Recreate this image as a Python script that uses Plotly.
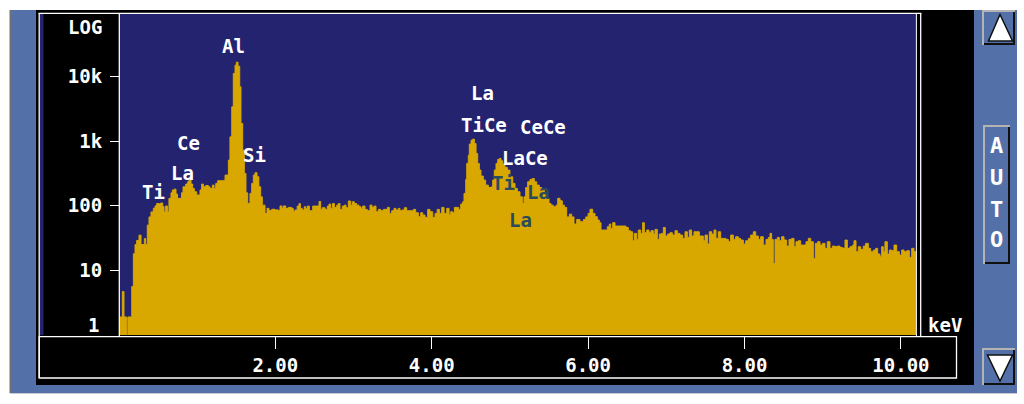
import plotly.graph_objects as go

# ---------------- data ----------------
energy_kev = [
    0.014, 0.044, 0.065, 0.100, 0.115, 0.164, 0.185, 0.206, 0.227, 0.257, 0.283, 0.325, 0.342, 0.363,
    0.385, 0.41, 0.44, 0.462, 0.483, 0.513, 0.534, 0.56, 0.577, 0.598, 0.62, 0.64, 0.666, 0.683,
    0.709, 0.73, 0.75, 0.80, 0.82, 0.854, 0.88, 0.896, 0.922, 0.943, 0.965, 0.995, 1.037, 1.058,
    1.08, 1.11, 1.143, 1.165, 1.195, 1.216, 1.238, 1.263, 1.357, 1.40, 1.42, 1.443, 1.463, 1.485,
    1.502, 1.523, 1.545, 1.561, 1.583, 1.604, 1.625, 1.647, 1.676, 1.698, 1.719, 1.74, 1.766, 1.79,
    1.813, 1.834, 1.868, 1.894, 1.919, 1.954, 1.996, 2.04, 2.06, 2.082, 2.10, 2.133, 2.166, 2.21,
    2.23, 2.25, 2.28, 2.303, 2.32, 2.345, 2.37, 2.39, 2.41, 2.435, 2.478, 2.559, 2.58, 2.60,
    2.636, 2.665, 2.687, 2.708, 2.73, 2.755, 2.785, 2.806, 2.827, 2.857, 2.883, 2.904, 2.934, 2.964,
    2.985, 3.01, 3.04, 3.07, 3.096, 3.117, 3.147, 3.177, 3.211, 3.237, 3.262, 3.288, 3.318, 3.348,
    3.382, 3.433, 3.458, 3.488, 3.518, 3.543, 3.573, 3.594, 3.616, 3.65, 3.68, 3.72, 3.765, 3.795,
    3.829, 3.859, 3.885, 3.914, 3.948, 3.978, 4.013, 4.043, 4.07, 4.098, 4.128, 4.158, 4.192, 4.222,
    4.243, 4.268, 4.29, 4.345, 4.371, 4.396, 4.413, 4.435, 4.448, 4.468, 4.481, 4.503, 4.524, 4.545,
    4.567, 4.588, 4.609, 4.63, 4.66, 4.69, 4.724, 4.758, 4.78, 4.80, 4.822, 4.844, 4.865, 4.886,
    4.908, 4.937, 4.967, 5.0, 5.036, 5.065, 5.095, 5.129, 5.159, 5.18, 5.202, 5.227, 5.257, 5.287,
    5.312, 5.343, 5.376, 5.406, 5.44, 5.47, 5.50, 5.526, 5.555, 5.59, 5.611, 5.641, 5.67, 5.696,
    5.726, 5.76, 5.79, 5.82, 5.854, 5.896, 5.94, 5.97, 6.0, 6.024, 6.058, 6.088, 6.118, 6.143,
    6.165, 6.246, 6.271, 6.288, 6.314, 6.344, 6.484, 6.514, 6.544, 6.57, 6.591, 6.621, 6.642, 6.672,
    6.697, 6.719, 6.749, 6.778, 6.804, 6.834, 6.855, 6.885, 6.91, 6.94, 6.962, 6.987, 7.017, 7.047,
    7.077, 7.111, 7.141, 7.175, 7.209, 7.239, 7.269, 7.294, 7.324, 7.354, 7.388, 7.422, 7.452, 7.473,
    7.495, 7.525, 7.55, 7.58, 7.61, 7.635, 7.665, 7.695, 7.73, 7.763, 7.793, 7.823, 7.857, 7.887,
    7.92, 7.95, 7.985, 8.015, 8.049, 8.079, 8.113, 8.143, 8.177, 8.206, 8.24, 8.275, 8.305, 8.326,
    8.347, 8.368, 8.39, 8.42, 8.445, 8.475, 8.505, 8.539, 8.569, 8.603, 8.633, 8.658, 8.688, 8.718,
    8.752, 8.786, 8.816, 8.846, 8.88, 8.905, 8.935, 8.965, 8.995, 9.029, 9.059, 9.093, 9.123, 9.157,
    9.187, 9.221, 9.255, 9.285, 9.315, 9.349, 9.383, 9.40, 9.426, 9.455, 9.485, 9.519, 9.549, 9.583,
    9.613, 9.647, 9.677, 9.703, 9.733, 9.754, 9.775, 9.796, 9.826, 9.852, 9.882, 9.912, 9.946, 9.98,
    10.01, 10.04, 10.074, 10.108, 10.138, 10.167, 10.193,
]
counts = [
    1.9, 4.7, 1.9, 0.5, 1.9, 5.6, 18, 25, 29, 35, 25, 31, 25, 50,
    67, 80, 91, 99, 108, 106, 110, 97, 80, 99, 80, 130, 158, 175,
    180, 151, 130, 158, 196, 216, 235, 255, 216, 185, 164, 146, 175, 216,
    196, 205, 196, 185, 208, 185, 221, 243, 297, 507, 1160, 3380, 11100, 14900,
    16600, 14400, 6880, 1870, 723, 315, 158, 108, 155, 221, 297, 323, 280, 196,
    137, 102, 76, 91, 84, 88, 86, 84, 99, 91, 99, 91, 94, 91,
    80.6, 85.5, 98.6, 108, 90.8, 85.5, 96.3, 89.7, 98.6, 83.5, 98.6, 116, 87.6, 93,
    87.6, 98.6, 106, 90.8, 108, 94, 102, 108, 87.6, 98.6, 102, 93, 118, 102,
    115, 108, 102, 96.3, 90.8, 98.6, 87.6, 83.5, 102, 94, 98.6, 80.6, 87.6, 83.5,
    87.6, 94, 76, 83.5, 90.8, 85.5, 90.8, 83.5, 85.5, 93, 83.5, 83.5, 87.6, 77.8,
    67.5, 77.8, 71.6, 65.9, 87.6, 80.6, 65.9, 76, 87.6, 76, 94, 76, 90.8, 71.6,
    80.6, 77.8, 94, 87.6, 106, 115, 155, 255, 450, 605, 896, 1030, 1070, 918,
    643, 450, 355, 287, 249, 208, 191, 195, 249, 355, 450, 519, 538, 494,
    440, 391, 355, 280, 221, 185, 164, 137, 108, 137, 191, 234, 255, 263,
    234, 208, 191, 174, 146, 130, 108, 102, 96, 102, 130, 119, 102, 94,
    67, 74, 67, 52, 61, 56.5, 61, 67, 76, 88, 76, 67.5, 60, 54.5,
    42, 47.2, 52, 44.5, 54.5, 48.4, 46.1, 41, 39.5, 28.7, 37.3, 30.1, 42, 37.3,
    54.5, 38.2, 42, 38.2, 41, 36.4, 43, 30.1, 36.4, 37.3, 46.1, 33.9, 36.4, 38.2,
    35.1, 41, 37.3, 35.1, 31.2, 39.5, 32.3, 42, 33.9, 39.5, 39.5, 33.9, 33.9, 28.7,
    35.1, 25.5, 39.5, 36.4, 42, 31.2, 39.5, 31.2, 31.2, 30.1, 27.7, 35.1, 30.1, 33.1,
    31.2, 29.4, 25.5, 28.7, 31.2, 35.1, 39.5, 33.9, 30.1, 33.1, 24.6, 30.1, 32.3, 37.3,
    30.1, 12.8, 30.1, 32.3, 28.7, 33.1, 29.4, 23.7, 30.1, 31.2, 23.2, 27.7, 28.7, 24.6,
    24.6, 27.7, 31.2, 27.7, 15.3, 26.1, 27.7, 24.6, 26.1, 21.9, 27.7, 21.9, 23.7, 23.2,
    23.7, 22.6, 21.9, 29.4, 21.9, 23.2, 24.6, 28.7, 19.4, 23.2, 21.1, 23.7, 26.1, 21.9,
    19.4, 20.6, 21.9, 17.9, 16.2, 23.2, 19.4, 27.7, 17.9, 20.6, 20.1, 24.6, 19.4, 17.2,
    20.6, 19.4, 20.1, 15.9, 21.9, 19.4, 19.4,
]

x_ticks = [2, 4, 6, 8, 10]
x_tick_labels = ["2.00", "4.00", "6.00", "8.00", "10.00"]
y_ticks = [10, 100, 1000, 10000]
y_tick_labels = ["10", "100", "1k", "10k"]

# element labels: (text, pixel x, pixel y, colour key)
label_text = ["Al", "Ce", "La", "Ti", "Si", "La", "TiCe", "CeCe", "LaCe", "Ti", "La", "La"]
label_px = [233, 188, 182, 153, 254, 482, 484, 543, 525, 503, 538, 520]
label_py = [46, 143, 173, 192, 155, 93, 125, 127, 158, 183, 192, 220]
label_dark = [False, False, False, False, False, False, False, False, False, True, True, True]

# ---------------- styling ----------------
W, H = 1024, 404
PL, PR, PT, PB = 120, 916, 13, 335
FONT = "DejaVu Sans Mono"
FS = 19
YELLOW = "#d8a800"
PLOTBLUE = "#232370"
SLATE = "#5470a8"
WHITE = "#ffffff"


def fx(px):
    return (px - PL) / (PR - PL)


def fy(py):
    return (PB - py) / (PB - PT)


shapes = []


def rect(x0, y0, x1, y1, fill=None, line=None, lw=0, layer="below"):
    shapes.append(dict(type="rect", xref="paper", yref="paper",
                       x0=fx(x0), x1=fx(x1), y0=fy(y1), y1=fy(y0),
                       fillcolor=fill if fill else "rgba(0,0,0,0)",
                       line=dict(color=line if line else "rgba(0,0,0,0)", width=lw),
                       layer=layer))


def line(x0, y0, x1, y1, color, lw=1, layer="above"):
    shapes.append(dict(type="line", xref="paper", yref="paper",
                       x0=fx(x0), x1=fx(x1), y0=fy(y0), y1=fy(y1),
                       line=dict(color=color, width=lw), layer=layer))


def poly(pts, fill, color, lw=1, layer="above"):
    path = "M " + " L ".join(f"{fx(a):.5f},{fy(b):.5f}" for a, b in pts) + " Z"
    shapes.append(dict(type="path", xref="paper", yref="paper", path=path,
                       fillcolor=fill, line=dict(color=color, width=lw), layer=layer))


# outer slate panel
rect(10, 10, 1017, 393, fill=SLATE)
line(10.5, 10, 10.5, 393, "#707070", 2, layer="below")
line(10, 393.5, 1017, 393.5, "#c8cad0", 1, layer="below")
# black frame
rect(36, 10, 974, 385, fill="#000000")
# plot area background
rect(PL, PT, PR, PB, fill=PLOTBLUE)
# blue strip on left
rect(40, 14, 43.5, 335, fill=PLOTBLUE)
# x-axis box
rect(39.2, 336.7, 956.5, 378, fill="#000000", line=WHITE, lw=1.3)
# white frame lines
line(38.5, 13.3, 921.3, 13.3, WHITE, 1.3)
line(39.2, 13, 39.2, 378, WHITE, 1.3)
line(119.3, 13, 119.3, 336.7, WHITE, 1.3)
line(916.4, 13, 916.4, 336.7, WHITE, 1.0)
line(920.7, 13, 920.7, 336.7, WHITE, 1.3)

# buttons
def button(x0, y0, x1, y1):
    rect(x0, y0, x1, y1, fill=SLATE, layer="above")
    line(x0 + 1, y0, x0 + 1, y1, "#b4b4b4", 2)
    line(x0, y0 + 1, x1, y0 + 1, "#b4b4b4", 2)
    line(x1 - 1, y0 + 2, x1 - 1, y1, "#101010", 2)
    line(x0 + 2, y1 - 1, x1, y1 - 1, "#101010", 2)


button(982, 10, 1015, 45)
poly([(1000, 14.5), (988.5, 41), (1012.5, 41)], WHITE, "#101010", 1.5)
button(983, 125, 1010, 264)
button(982, 348, 1015, 385)
poly([(987.5, 355), (1012.5, 355), (1000, 381)], WHITE, "#101010", 1.5)

annotations = []


def text(t, px, py, color=WHITE, size=FS, xanchor="center", bold=True):
    annotations.append(dict(text=t, xref="paper", yref="paper", x=fx(px), y=fy(py),
                            xanchor=xanchor, yanchor="middle", showarrow=False,
                            font=dict(family=FONT, size=size, color=color,
                                      weight="bold" if bold else "normal")))


text("LOG", 84.5, 27)
text("1", 101, 325, xanchor="right")
text("keV", 945, 325)
for ch, yy in zip("AUTO", [146, 177.5, 209, 239.5]):
    text(ch, 996, yy, size=22)
for t, lx, ly, dk in zip(label_text, label_px, label_py, label_dark):
    text(t, lx, ly, color="#2b4a5c" if dk else WHITE)

fig = go.Figure()
fig.add_trace(go.Scatter(
    x=energy_kev, y=counts, mode="lines", line_shape="hv",
    line=dict(color=YELLOW, width=1), fill="tozeroy", fillcolor=YELLOW,
    hoverinfo="skip", showlegend=False,
))

fig.update_layout(
    width=W, height=H,
    margin=dict(l=PL, r=W - PR, t=PT, b=H - PB, pad=0),
    paper_bgcolor=WHITE, plot_bgcolor=PLOTBLUE,
    shapes=shapes, annotations=annotations, showlegend=False,
    xaxis=dict(range=[0.014, 10.193], tickvals=x_ticks, ticktext=x_tick_labels,
               ticks="outside", ticklen=13, tickwidth=1.3, tickcolor=WHITE,
               showgrid=False, zeroline=False, showline=False,
               tickfont=dict(family=FONT, size=FS, color=WHITE, weight="bold")),
    yaxis=dict(type="log", range=[0, 4.98], tickvals=y_ticks, ticktext=y_tick_labels,
               ticks="outside", ticklen=9, tickwidth=1.3, tickcolor=WHITE,
               ticklabelstandoff=4,
               showgrid=False, zeroline=False, showline=False,
               tickfont=dict(family=FONT, size=FS, color=WHITE, weight="bold")),
)

fig.write_html(
    "out.html",
    config={"displayModeBar": False},
    post_script="document.body.style.margin='0px';document.body.style.overflow='hidden';",
)
